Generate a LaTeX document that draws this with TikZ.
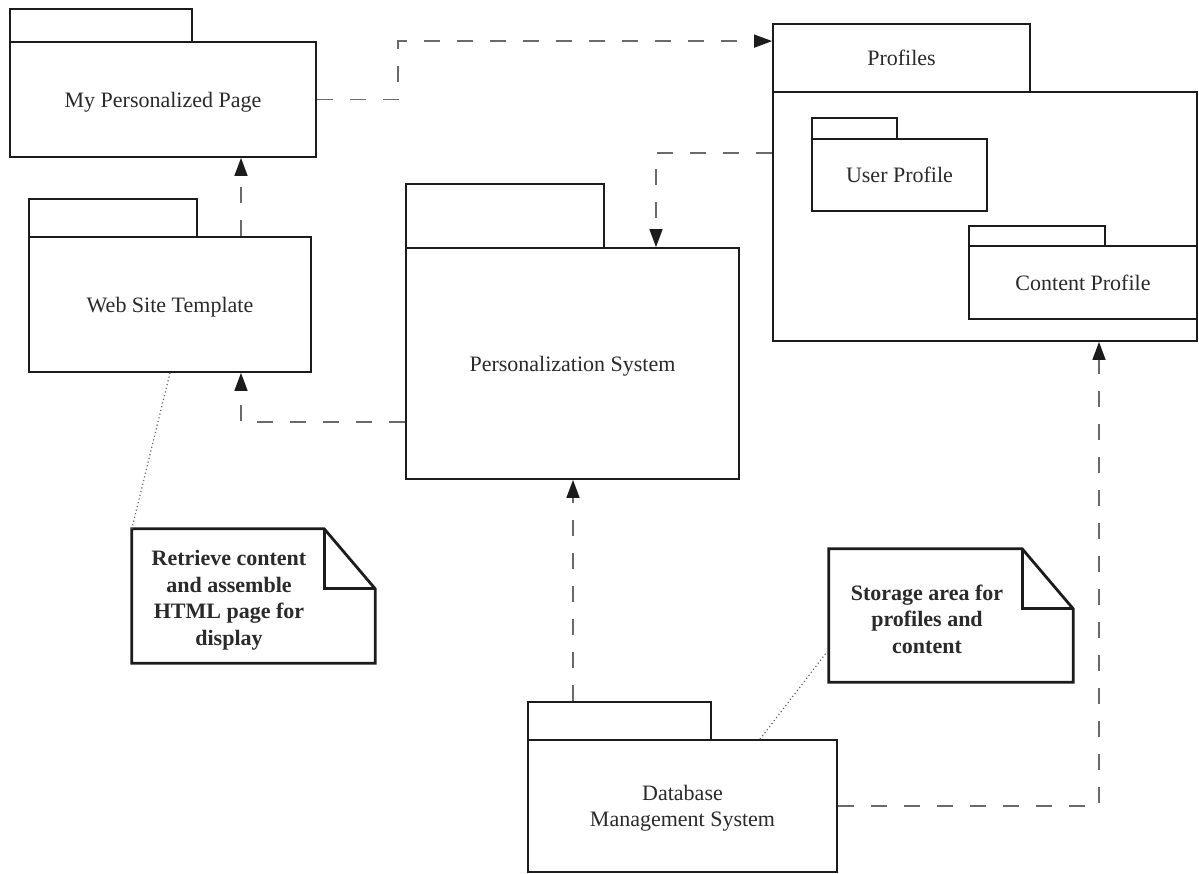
\documentclass[tikz,border=0pt]{standalone}
\usepackage{fontspec}
\setmainfont{Liberation Serif}
\usetikzlibrary{arrows.meta,calc}
\definecolor{ink}{HTML}{1C1C1C}
\definecolor{txt}{HTML}{2A2A2A}
\definecolor{dashgray}{HTML}{6A6A6A}
\begin{document}
\begin{tikzpicture}[x=1pt,y=-1pt,
  pkg/.style={draw=ink, line width=1.8pt, fill=white, inner sep=0pt,
    align=center, text=txt, text depth=0pt, font=\fontsize{22}{26}\selectfont},
  pkgtab/.style={draw=ink, line width=1.8pt, fill=white, inner sep=0pt,
    text=txt, text depth=0pt, font=\fontsize{22}{26}\selectfont},
  dep/.style={draw=dashgray, line width=1.5pt, dash pattern=on 16pt off 17pt,
    -{Triangle[length=18pt,width=13pt,color=ink]}},
  notelink/.style={draw=dashgray, line width=1.2pt, dash pattern=on 1.2pt off 2.6pt},
  noteshape/.style={draw=none, inner sep=0pt},
  noteline/.style={draw=ink, line width=2.8pt, line join=miter},
  notetext/.style={inner sep=0pt, align=center, text=txt,
    font=\fontsize{22}{26.5}\selectfont\bfseries},
]
\useasboundingbox (0,0) rectangle (1199,873);
\fill[white] (0,0) rectangle (1199,873);

% My Personalized Page
\node[pkgtab, minimum width=182pt, minimum height=33pt] (mpptab) at (101,25.5) {};
\node[pkg, minimum width=306pt, minimum height=115pt] (mpp) at (163,99.5) {My Personalized Page};

% Web Site Template
\node[pkgtab, minimum width=168pt, minimum height=38pt] (wsttab) at (113,218) {};
\node[pkg, minimum width=282pt, minimum height=135pt] (wst) at (170,304.5) {Web Site Template};

% Personalization System
\node[pkgtab, minimum width=198pt, minimum height=64pt] (pstab) at (505,216) {};
\node[pkg, minimum width=333pt, minimum height=231pt] (ps) at (572.5,363.5) {Personalization System};

% Profiles with its two nested packages
\node[pkgtab, minimum width=257pt, minimum height=68pt] (proftab) at (901.5,58) {Profiles};
\node[pkg, minimum width=424pt, minimum height=249pt] (prof) at (985,216.5) {};
\node[pkgtab, minimum width=85pt, minimum height=21pt] (uptab) at (854.5,128.5) {};
\node[pkg, minimum width=175pt, minimum height=72pt] (up) at (899.5,175) {User Profile};
\node[pkgtab, minimum width=136pt, minimum height=20pt] (cptab) at (1037,236) {};
\node[pkg, minimum width=228pt, minimum height=73pt] (cp) at (1083,282.5) {Content Profile};

% Database Management System
\node[pkgtab, minimum width=183pt, minimum height=38pt] (dbtab) at (619.5,721) {};
\node[pkg, minimum width=309pt, minimum height=132pt] (db) at (682.5,806) {Database\\Management System};

% Notes
\node[noteshape, minimum width=243pt, minimum height=134pt] (n1) at (253.5,596) {};
\draw[noteline] (n1.north west) -- ([xshift=-51pt]n1.north east)
  -- ([yshift=-60pt]n1.north east) -- (n1.south east) -- (n1.south west) -- cycle;
\draw[noteline] ([xshift=-51pt]n1.north east) |- ([yshift=-60pt]n1.north east);
\node[notetext] (n1t) at (229,600) {Retrieve content\\and assemble\\HTML page for\\display};

\node[noteshape, minimum width=244pt, minimum height=133pt] (n2) at (951,615.5) {};
\draw[noteline] (n2.north west) -- ([xshift=-51pt]n2.north east)
  -- ([yshift=-60pt]n2.north east) -- (n2.south east) -- (n2.south west) -- cycle;
\draw[noteline] ([xshift=-51pt]n2.north east) |- ([yshift=-60pt]n2.north east);
\node[notetext] (n2t) at (927,619) {Storage area for\\profiles and\\content};

% Dependencies
\draw[dep] (mpp.east) -- ++(81,0) |- ([yshift=-18pt]proftab.north west);
\draw[dep] ([xshift=71pt]wst.north) coordinate (a) -- (a |- mpp.south);
\draw[dep] ([yshift=-58.5pt]ps.west) -| (a |- wst.south);
\draw[dep] ([yshift=63.5pt]prof.west) -| ([xshift=83.5pt]ps.north);
\draw[dep] ([xshift=-46.5pt]dbtab.north) coordinate (b) -- (b |- ps.south);
\draw[dep] (db.east) -| ([xshift=114pt]prof.south);

% Note attachments
\draw[notelink] (wst.south) -- (n1.north west);
\draw[notelink] ([xshift=77.5pt]db.north) -- ([yshift=-34pt]n2.west);
\end{tikzpicture}
\end{document}
